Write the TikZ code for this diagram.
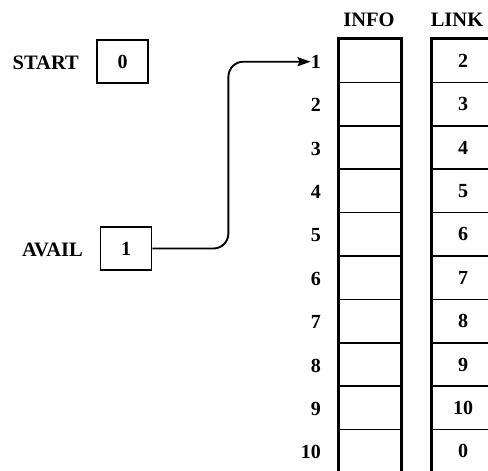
\documentclass[tikz,border=0pt]{standalone}
\usepackage{fontspec}
\setmainfont{Liberation Serif}
\usetikzlibrary{arrows.meta}
\tikzset{
  lbl/.style={font=\fontsize{20.5}{20.5}\selectfont\bfseries, inner sep=0pt},
  cell/.style={draw, line width=1.6pt, minimum width=62pt, minimum height=43.4pt, inner sep=0pt, font=\fontsize{20}{20}\selectfont\bfseries},
  side/.style={line width=2.8pt},
  ptr/.style={draw, line width=1.8pt, minimum width=51pt, minimum height=43pt, inner sep=0pt, font=\fontsize{20}{20}\selectfont\bfseries},
  link/.style={line width=1.9pt, rounded corners=15pt, -{Stealth[length=13pt,width=9pt,inset=2pt]}}
}
\begin{document}
\begin{tikzpicture}[x=1pt,y=-1pt]
\useasboundingbox (0,0) rectangle (488,471);
\clip (0,0) rectangle (488,471);
% headers
\node[lbl] (hinfo) at (369,20) {INFO};
\node[lbl] (hlink) at (457,20) {LINK};
% pointer boxes
\node[lbl, anchor=east] (tstart) at (79,63) {START};
\node[ptr] (start) at (122.5,61.5) {0};
\node[lbl, anchor=east] (tavail) at (83,250) {AVAIL};
\node[ptr] (avail) at (126,248.5) {1};
% columns
\foreach \i/\l in {1/2,2/3,3/4,4/5,5/6,6/7,7/8,8/9,9/10,10/0}{
  \pgfmathsetmacro{\yy}{39+43.4*(\i-0.5)}
  \node[cell] (info\i) at (370,\yy) {};
  \node[cell] (link\i) at (463,\yy) {\l};
  \node[lbl, anchor=east, font=\fontsize{20}{20}\selectfont\bfseries] (n\i) at (321,\yy+1) {\i};
}
\draw[side] (info1.north west) -- (info10.south west);
\draw[side] (info1.north east) -- (info10.south east);
\draw[side] (link1.north west) -- (link10.south west);
\draw[side] ([xshift=-1.4pt]info1.north west) -- ([xshift=1.4pt]info1.north east);
\draw[side] ([xshift=-1.4pt]link1.north west) -- (link1.north east);
% arrow
\draw[link] (avail.east) -- ++(76,0) |- (n1.west);
\end{tikzpicture}
\end{document}
